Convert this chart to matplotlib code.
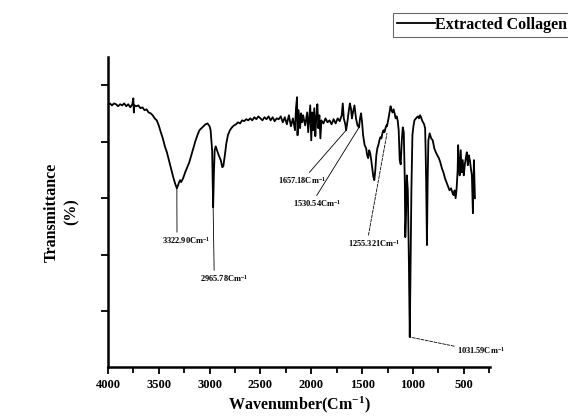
import matplotlib
matplotlib.use("Agg")
import matplotlib.pyplot as plt
from matplotlib.ticker import MultipleLocator

plt.rcParams['font.family'] = ['Liberation Serif', 'DejaVu Serif']
plt.rcParams['font.weight'] = 'bold'
plt.rcParams['mathtext.fontset'] = 'custom'
plt.rcParams['mathtext.rm'] = 'Liberation Serif:bold'
plt.rcParams['mathtext.it'] = 'Liberation Serif:bold'
plt.rcParams['mathtext.bf'] = 'Liberation Serif:bold'

# FTIR spectrum (wavenumber, cm-1) and transmittance (arbitrary %)
wavenumber = [
    4000, 3980, 3960, 3940, 3920, 3900, 3880, 3860, 3840, 3820, 3800, 3780, 3760, 3750, 3745, 3740,
    3720, 3700, 3680, 3660, 3640, 3620, 3600, 3580, 3560, 3540, 3520, 3500, 3480, 3460, 3440, 3420,
    3400, 3380, 3360, 3340, 3322, 3310, 3300, 3290, 3280, 3260, 3240, 3220, 3200, 3180, 3160, 3140,
    3120, 3100, 3080, 3060, 3040, 3020, 3000, 2990, 2975, 2965, 2958, 2950, 2940, 2930, 2910, 2890,
    2875, 2865, 2850, 2835, 2820, 2800, 2780, 2760, 2740, 2720, 2700, 2680, 2660, 2640, 2620, 2600,
    2580, 2560, 2540, 2520, 2500, 2480, 2460, 2440, 2420, 2400, 2380, 2360, 2340, 2320, 2300, 2280,
    2260, 2240, 2220, 2200, 2180, 2160, 2150, 2140, 2135, 2125, 2110, 2100, 2090, 2080, 2060, 2040,
    2030, 2020, 2010, 2000, 1990, 1980, 1970, 1960, 1950, 1940, 1930, 1920, 1910, 1900, 1880, 1860,
    1840, 1820, 1800, 1780, 1760, 1740, 1720, 1700, 1690, 1680, 1665, 1657, 1645, 1630, 1620, 1610,
    1600, 1590, 1575, 1560, 1545, 1530, 1520, 1510, 1500, 1490, 1475, 1460, 1450, 1440, 1430, 1420,
    1410, 1400, 1390, 1380, 1370, 1360, 1350, 1340, 1330, 1320, 1310, 1300, 1290, 1280, 1270, 1260,
    1255, 1240, 1230, 1220, 1210, 1200, 1190, 1180, 1170, 1160, 1150, 1140, 1130, 1120, 1110, 1100,
    1090, 1080, 1075, 1068, 1060, 1050, 1040, 1031, 1025, 1015, 1005, 995, 985, 970, 960, 950,
    940, 930, 920, 910, 900, 890, 880, 875, 870, 862, 855, 848, 835, 820, 805, 790,
    775, 760, 745, 730, 715, 700, 685, 670, 655, 640, 625, 610, 600, 590, 580, 570,
    560, 555, 550, 540, 530, 520, 510, 500, 490, 480, 470, 460, 450, 440, 430, 420,
    410, 400, 390,
]
transmittance = [
    93.3, 93.6, 92.9, 93.6, 93.3, 92.6, 93.3, 92.9, 93.6, 92.6, 93.3, 92.2, 93.3, 95.4, 90.4, 92.9,
    92.6, 92.9, 91.9, 92.2, 91.2, 91.5, 90.4, 90.1, 89.4, 88.3, 87.6, 85.8, 83.4, 81.2, 78.4, 76.3,
    73.5, 70.6, 67.8, 65.3, 63.5, 64.6, 65.7, 66.4, 65.7, 67.1, 69.2, 71.0, 72.7, 75.2, 77.7, 80.2,
    82.3, 84.1, 84.8, 85.5, 86.2, 86.5, 85.5, 84.1, 77.0, 56.8, 68.1, 77.0, 78.4, 77.3, 75.2, 73.5,
    71.0, 71.3, 75.2, 79.5, 82.3, 84.1, 85.1, 85.8, 86.2, 86.9, 86.5, 87.6, 87.3, 88.0, 87.6, 88.3,
    87.6, 88.7, 88.0, 89.0, 88.3, 87.6, 88.7, 88.0, 89.0, 87.6, 88.7, 87.3, 88.3, 88.0, 89.0, 86.9,
    88.7, 86.2, 89.4, 85.5, 88.3, 84.1, 91.9, 95.8, 82.3, 91.2, 84.8, 90.1, 86.9, 89.4, 85.8, 90.4,
    83.4, 88.3, 92.9, 80.5, 90.4, 84.1, 91.9, 82.0, 88.7, 93.3, 84.8, 89.4, 81.2, 87.6, 86.5, 88.3,
    86.9, 87.6, 86.2, 88.0, 86.5, 88.3, 87.3, 89.4, 93.6, 88.3, 86.2, 84.1, 86.9, 91.2, 93.6, 91.9,
    88.3, 90.4, 92.9, 88.3, 85.8, 85.1, 88.3, 90.1, 86.9, 82.3, 78.8, 77.7, 75.2, 74.2, 77.0, 75.9,
    73.5, 70.6, 67.8, 66.4, 69.9, 75.2, 77.7, 78.8, 80.5, 81.6, 81.2, 83.0, 84.1, 83.4, 84.8, 85.8,
    85.5, 88.3, 90.4, 92.6, 91.2, 90.4, 91.5, 90.1, 88.3, 89.0, 87.6, 84.1, 73.5, 72.0, 80.0, 85.1,
    83.4, 66.4, 46.2, 54.0, 68.1, 62.8, 38.1, 10.8, 31.0, 62.8, 82.3, 85.5, 87.6, 88.3, 88.7, 89.0,
    88.3, 89.4, 88.7, 87.6, 86.9, 86.2, 84.8, 77.0, 66.4, 43.4, 66.4, 80.5, 83.0, 81.2, 80.5, 77.7,
    76.3, 75.2, 74.2, 72.7, 70.6, 69.2, 67.1, 65.7, 64.3, 62.8, 63.5, 61.8, 61.1, 62.8, 60.0, 63.5,
    69.9, 78.8, 73.5, 68.1, 77.0, 69.2, 73.5, 68.1, 71.7, 74.2, 76.3, 71.7, 75.2, 73.5, 70.6, 68.1,
    54.7, 73.5, 60.0,
]

# Peak annotations
peak_labels = ["3322.90", "2965.78", "1657.18", "1530.54", "1255.321", "1031.59"]
peak_x = [3322, 2965, 1657, 1530, 1255, 1031]
peak_y = [63.5, 56.8, 84.1, 85.1, 83.0, 10.8]
text_x = [3235, 2860, 2090, 1940, 1380, 330]
text_y = [45.0, 31.5, 66.2, 58.0, 44.0, 6.0]
rel_pos = [(0.32, 1.0), (0.3, 1.0), (0.6, 1.0), (0.45, 1.0), (0.38, 1.0), (0.0, 0.85)]
dashed = [False, False, False, False, True, True]

y_ticks = [20, 40, 60, 80, 100]

fig = plt.figure(figsize=(5.68, 4.17), dpi=100)
ax = fig.add_axes([0.190, 0.120, 0.673, 0.743])

line, = ax.plot(wavenumber, transmittance, color='black', lw=1.3, label='Extracted Collagen')

ax.set_xlim(4000, 240)
ax.set_ylim(0.2, 110)
ax.xaxis.set_major_locator(MultipleLocator(500))
ax.xaxis.set_minor_locator(MultipleLocator(250))
ax.set_yticks(y_ticks)
ax.set_yticklabels([])

for s in ['top', 'right']:
    ax.spines[s].set_visible(False)
for s in ['left', 'bottom']:
    ax.spines[s].set_linewidth(1.8)

ax.tick_params(axis='both', which='major', direction='out', length=5, width=1.3, labelsize=9)
ax.tick_params(axis='x', which='minor', direction='out', length=4, width=1.3)
for lab in ax.get_xticklabels():
    lab.set_fontweight('bold')

ax.set_xlabel('Wavenumber(Cm$^{-1}$)', fontsize=11.5, fontweight='bold')
ax.xaxis.set_label_coords(0.5, -0.09)
ax.set_ylabel('Transmittance\n(%)', fontsize=11.5, fontweight='bold', linespacing=1.3)
ax.yaxis.set_label_coords(-0.075, 0.5)

for lbl, px, py, tx, ty, rp, ds in zip(peak_labels, peak_x, peak_y, text_x, text_y, rel_pos, dashed):
    ax.annotate(lbl + 'Cm$^{-1}$', xy=(px, py), xytext=(tx, ty), fontsize=6, fontweight='bold',
                ha='center', va='center',
                arrowprops=dict(arrowstyle='-', lw=0.6, color='black', shrinkA=0, shrinkB=0,
                                relpos=rp, linestyle='--' if ds else '-'))

leg = fig.legend(handles=[line], loc='upper left', bbox_to_anchor=(393 / 568, 1 - 13 / 417),
                 frameon=True, fancybox=False, edgecolor='#444444', fontsize=11.5,
                 handlelength=2.4, handletextpad=0.0, borderpad=0.25, borderaxespad=0)
leg.get_frame().set_linewidth(0.8)
for t in leg.get_texts():
    t.set_fontweight('bold')

fig.savefig('out.png', dpi=100)
